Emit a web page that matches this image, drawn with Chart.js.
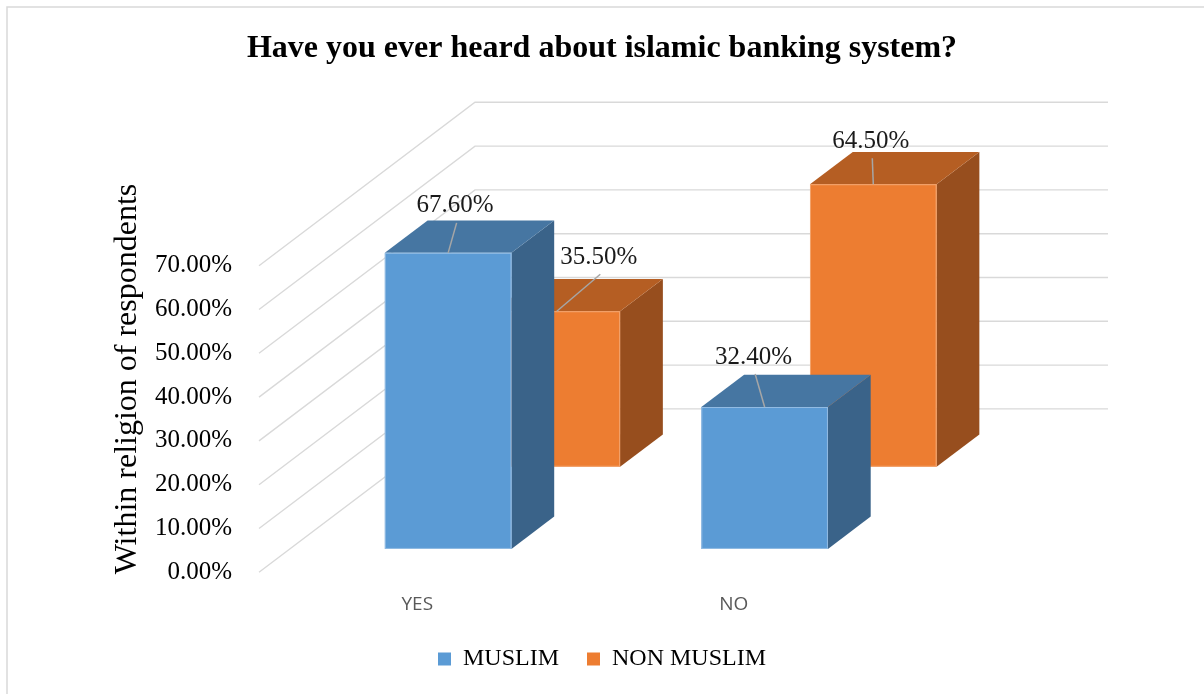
<!DOCTYPE html>
<html>
<head>
<meta charset="utf-8">
<title>Have you ever heard about islamic banking system?</title>
<script src="https://cdn.jsdelivr.net/npm/chart.js@4.4.1/dist/chart.umd.min.js"></script>
<style>
  html, body { margin: 0; padding: 0; background: #fff; }
  #wrap { width: 1204px; height: 694px; }
</style>
</head>
<body>
<div id="wrap"><canvas id="chart" width="1204" height="694"></canvas></div>
<script>
const categories  = ["YES", "NO"];
const seriesNames = ["MUSLIM", "NON MUSLIM"];
const muslim      = [67.6, 32.4];
const nonMuslim   = [35.5, 64.5];
const yTicks      = [0, 10, 20, 30, 40, 50, 60, 70];

const SERIF = "'Liberation Serif', 'Times New Roman', serif";

// perspective: offset from the front plane to the back wall
const DEPTH = { x: 216, y: -163.4 };
// front / back of each series row, as a share of DEPTH
const ROWS = [[0.143, 0.341], [0.646, 0.844]];
const FACES = [
  { front: "#5b9bd5", top: "#4676a2", side: "#3a6389", edge: "#93bce3" },
  { front: "#ed7d31", top: "#b55e23", side: "#974e1e", edge: "#f2a46e" }
];
// where each value label sits, relative to the front-top centre of its bar
const LABEL_SHIFT = [[[7, -47], [-11, -50]], [[42, -54], [-2.5, -43]]];

const pct = (v) => v.toFixed(2) + "%";

const framePlugin = {
  id: "frame",
  beforeDraw(chart){
    const { ctx } = chart;
    ctx.save();
    ctx.strokeStyle = "#d9d9d9";
    ctx.lineWidth = 1.5;
    ctx.strokeRect(7, 7, 1220, 710);
    ctx.restore();
  }
};

const grid3dPlugin = {
  id: "grid3d",
  beforeDatasetsDraw(chart){
    const { ctx, chartArea, scales } = chart;
    const y = scales.y;
    ctx.save();
    ctx.strokeStyle = "#d9d9d9";
    ctx.lineWidth = 1.4;
    y.ticks.forEach((t) => {
      const py = y.getPixelForValue(t.value);
      ctx.beginPath();
      ctx.moveTo(chartArea.left, py);
      ctx.lineTo(chartArea.left + DEPTH.x, py + DEPTH.y);
      ctx.lineTo(chartArea.right + DEPTH.x, py + DEPTH.y);
      ctx.stroke();
    });
    ctx.restore();
  }
};

function drawBox(ctx, el, row, face){
  const [t0, t1] = row;
  const x0 = el.x - el.width / 2, x1 = el.x + el.width / 2;
  const fx = t0 * DEPTH.x, fy = t0 * DEPTH.y;
  const bx = t1 * DEPTH.x, by = t1 * DEPTH.y;
  const top = el.y, bot = el.base;

  ctx.fillStyle = face.side;
  ctx.beginPath();
  ctx.moveTo(x1 + fx, top + fy);
  ctx.lineTo(x1 + bx, top + by);
  ctx.lineTo(x1 + bx, bot + by);
  ctx.lineTo(x1 + fx, bot + fy);
  ctx.closePath();
  ctx.fill();

  ctx.fillStyle = face.top;
  ctx.beginPath();
  ctx.moveTo(x0 + fx, top + fy);
  ctx.lineTo(x1 + fx, top + fy);
  ctx.lineTo(x1 + bx, top + by);
  ctx.lineTo(x0 + bx, top + by);
  ctx.closePath();
  ctx.fill();

  ctx.fillStyle = face.front;
  ctx.fillRect(x0 + fx, top + fy, x1 - x0, bot - top);
  ctx.strokeStyle = face.edge;
  ctx.lineWidth = 1;
  ctx.strokeRect(x0 + fx + 0.5, top + fy + 0.5, x1 - x0 - 1, bot - top - 1);
}

const bars3dPlugin = {
  id: "bars3d",
  beforeDatasetDraw(){ return false; },
  afterDatasetsDraw(chart){
    const { ctx } = chart;
    const order = [1, 0]; // back row first
    ctx.save();
    order.forEach((di) => {
      chart.getDatasetMeta(di).data.forEach((el) => drawBox(ctx, el, ROWS[di], FACES[di]));
    });

    ctx.font = "25px " + SERIF;
    ctx.textAlign = "center";
    ctx.textBaseline = "middle";
    order.forEach((di) => {
      const values = chart.data.datasets[di].data;
      chart.getDatasetMeta(di).data.forEach((el, i) => {
        const ax = el.x + ROWS[di][0] * DEPTH.x;
        const ay = el.y + ROWS[di][0] * DEPTH.y;
        const [dx, dy] = LABEL_SHIFT[di][i];
        const lx = ax + dx, ly = ay + dy;
        ctx.strokeStyle = "#a6a6a6";
        ctx.lineWidth = 1.5;
        ctx.beginPath();
        ctx.moveTo(lx + 1.5, ly + 17);
        ctx.lineTo(ax, ay);
        ctx.stroke();
        ctx.fillStyle = "#1a1a1a";
        ctx.fillText(pct(values[i]), lx, ly);
      });
    });
    ctx.restore();
  }
};

const axisTitlePlugin = {
  id: "axisTitle",
  afterDraw(chart){
    const { ctx } = chart;
    ctx.save();
    ctx.translate(136, 379);
    ctx.rotate(-Math.PI / 2);
    ctx.font = "32px " + SERIF;
    ctx.fillStyle = "#000";
    ctx.textAlign = "center";
    ctx.textBaseline = "alphabetic";
    ctx.fillText("Within religion of respondents", 0, 0);
    ctx.restore();
  }
};

new Chart(document.getElementById("chart"), {
  type: "bar",
  data: {
    labels: categories,
    datasets: [
      { label: seriesNames[0], data: muslim,    backgroundColor: FACES[0].front },
      { label: seriesNames[1], data: nonMuslim, backgroundColor: FACES[1].front }
    ]
  },
  options: {
    responsive: false,
    animation: false,
    devicePixelRatio: 1,
    grouped: false,
    barPercentage: 0.4,
    categoryPercentage: 1,
    borderWidth: 0,
    layout: { padding: { top: 0, left: 0, right: 0, bottom: 13 } },
    plugins: {
      tooltip: { enabled: false },
      title: {
        display: true,
        text: "Have you ever heard about islamic banking system?",
        color: "#000",
        font: { family: SERIF, size: 32, weight: "bold" },
        padding: { top: 30, bottom: 197.3 }
      },
      legend: {
        position: "bottom",
        labels: {
          color: "#000",
          font: { family: SERIF, size: 24 },
          boxWidth: 13,
          boxHeight: 13,
          padding: 28
        }
      }
    },
    scales: {
      x: {
        type: "category",
        offset: true,
        grid: { display: false, drawTicks: false },
        border: { display: false },
        ticks: { color: "#595959", font: { family: "'Open Sans'", size: 19 }, padding: 21 },
        afterFit: (s) => { s.height = 46.7; }
      },
      y: {
        type: "linear",
        min: 0,
        max: 70,
        afterBuildTicks: (s) => { s.ticks = yTicks.map((v) => ({ value: v })); },
        grid: { display: false, drawTicks: false },
        border: { display: false },
        ticks: { color: "#000", font: { family: SERIF, size: 25 }, padding: 27, callback: (v) => pct(v) },
        afterFit: (s) => { s.width = 259; }
      },
      yR: {
        type: "linear",
        position: "right",
        grid: { display: false, drawTicks: false },
        border: { display: false },
        ticks: { display: false },
        afterFit: (s) => { s.width = 312; }
      }
    }
  },
  plugins: [framePlugin, grid3dPlugin, bars3dPlugin, axisTitlePlugin]
});
</script>
</body>
</html>
